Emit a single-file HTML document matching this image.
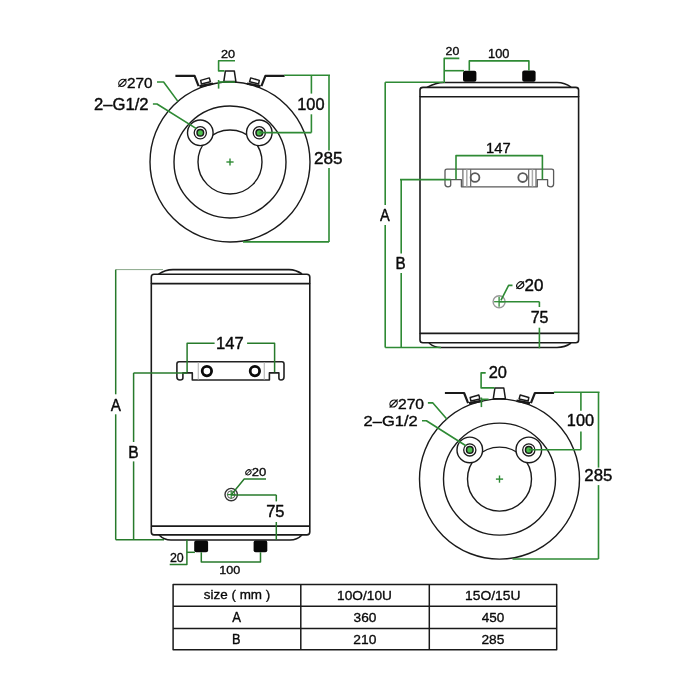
<!DOCTYPE html>
<html><head><meta charset="utf-8"><style>
html,body{margin:0;padding:0;background:#fff;}
svg{display:block;font-family:"Liberation Sans",sans-serif;}
text{will-change:transform;}
</style></head><body>
<svg width="700" height="700" viewBox="0 0 700 700" stroke-linecap="butt" stroke-linejoin="round">
<circle cx="230" cy="162" r="80" stroke="#1a1a1a" stroke-width="1.4" fill="none"/>
<circle cx="230" cy="162" r="56" stroke="#1a1a1a" stroke-width="1.4" fill="none"/>
<circle cx="230" cy="162" r="32" stroke="#1a1a1a" stroke-width="1.4" fill="none"/>
<circle cx="200.3" cy="132.8" r="12.8" stroke="#1a1a1a" stroke-width="1.4" fill="#fff"/>
<circle cx="200.3" cy="132.8" r="6.1" stroke="#1a1a1a" stroke-width="1.3" fill="none"/>
<circle cx="200.3" cy="132.8" r="3.3" stroke="#1a1a1a" stroke-width="1.5" fill="#4cc04c"/>
<circle cx="259.3" cy="132.8" r="12.8" stroke="#1a1a1a" stroke-width="1.4" fill="#fff"/>
<circle cx="259.3" cy="132.8" r="6.1" stroke="#1a1a1a" stroke-width="1.3" fill="none"/>
<circle cx="259.3" cy="132.8" r="3.3" stroke="#1a1a1a" stroke-width="1.5" fill="#4cc04c"/>
<line x1="226.4" y1="162" x2="233.6" y2="162" stroke="#2e8a34" stroke-width="1.4"/>
<line x1="230" y1="158.4" x2="230" y2="165.6" stroke="#2e8a34" stroke-width="1.4"/>
<polyline points="175.4,75.9 194.6,75.9 198.6,86.1" stroke="#1a1a1a" stroke-width="2.2" fill="none" />
<polyline points="284.6,75.9 265.4,75.9 261.4,86.1" stroke="#1a1a1a" stroke-width="2.2" fill="none" />
<polygon points="200.7,80.4 209.3,77.9 210.4,81.8 201.4,83.9" stroke="#1a1a1a" stroke-width="1.5" fill="#fff"/>
<polygon points="259.3,80.4 250.7,77.9 249.6,81.8 258.6,83.9" stroke="#1a1a1a" stroke-width="1.5" fill="#fff"/>
<line x1="199.5" y1="86.2" x2="213" y2="83.6" stroke="#1a1a1a" stroke-width="2.4"/>
<line x1="260.5" y1="86.2" x2="247" y2="83.6" stroke="#1a1a1a" stroke-width="2.4"/>
<polygon points="223.8,81.6 225.4,70.9 234.3,70.9 235.9,81.6" stroke="#1a1a1a" stroke-width="1.5" fill="#fff"/>
<line x1="284.3" y1="75.2" x2="330" y2="75.2" stroke="#2e8a34" stroke-width="1.6"/>
<line x1="311.4" y1="75.2" x2="311.4" y2="93.6" stroke="#2e8a34" stroke-width="1.6"/>
<line x1="311.4" y1="114.3" x2="311.4" y2="132.6" stroke="#2e8a34" stroke-width="1.6"/>
<line x1="259.3" y1="132.6" x2="311.4" y2="132.6" stroke="#2e8a34" stroke-width="1.6"/>
<line x1="329" y1="75.2" x2="329" y2="150.5" stroke="#2e8a34" stroke-width="1.6"/>
<line x1="329" y1="168" x2="329" y2="241.9" stroke="#2e8a34" stroke-width="1.6"/>
<line x1="243" y1="241.9" x2="329" y2="241.9" stroke="#2e8a34" stroke-width="1.6"/>
<text transform="matrix(0.1636 0 0 0.1568 297.21 109.69)" font-size="100" fill="#0a0a0a" stroke="#0a0a0a" stroke-width="2.49">100</text>
<text transform="matrix(0.1713 0 0 0.1667 313.99 164.08)" font-size="100" fill="#0a0a0a" stroke="#0a0a0a" stroke-width="2.52">285</text>
<polyline points="235,60.7 218.6,60.7 218.6,70.9 224.5,70.9" stroke="#2e8a34" stroke-width="1.6" fill="none" />
<line x1="218.6" y1="82" x2="235" y2="82" stroke="#2e8a34" stroke-width="1.6"/>
<line x1="218.6" y1="80" x2="218.6" y2="88.6" stroke="#2e8a34" stroke-width="1.6"/>
<text transform="matrix(0.1271 0 0 0.1172 220.91 57.63)" font-size="100" fill="#0a0a0a" stroke="#0a0a0a" stroke-width="2.78">20</text>
<text transform="matrix(0.1533 0 0 0.1469 126.88 88.30)" font-size="100" fill="#0a0a0a" stroke="#0a0a0a" stroke-width="2.47">270</text>
<ellipse cx="122.4" cy="82.8" rx="3.9600000000000004" ry="3.168" transform="rotate(-40 122.4 82.8)" stroke="#111" stroke-width="1.2" fill="none"/>
<line x1="118.44000000000001" y1="86.75999999999999" x2="126.36" y2="78.84" stroke="#111" stroke-width="1.2"/>
<text transform="matrix(0.1664 0 0 0.1568 94.02 109.69)" font-size="100" fill="#0a0a0a" stroke="#0a0a0a" stroke-width="2.47">2–G1/2</text>
<polyline points="157,82 163.6,82 177.9,101.4" stroke="#2e8a34" stroke-width="1.6" fill="none" />
<polyline points="152.9,104 157,104 196.4,128.6" stroke="#2e8a34" stroke-width="1.6" fill="none" />
<circle cx="499.5" cy="479.1" r="80" stroke="#1a1a1a" stroke-width="1.4" fill="none"/>
<circle cx="499.5" cy="479.1" r="56" stroke="#1a1a1a" stroke-width="1.4" fill="none"/>
<circle cx="499.5" cy="479.1" r="32" stroke="#1a1a1a" stroke-width="1.4" fill="none"/>
<circle cx="469.8" cy="449.90000000000003" r="12.8" stroke="#1a1a1a" stroke-width="1.4" fill="#fff"/>
<circle cx="469.8" cy="449.90000000000003" r="6.1" stroke="#1a1a1a" stroke-width="1.3" fill="none"/>
<circle cx="469.8" cy="449.90000000000003" r="3.3" stroke="#1a1a1a" stroke-width="1.5" fill="#4cc04c"/>
<circle cx="528.8" cy="449.90000000000003" r="12.8" stroke="#1a1a1a" stroke-width="1.4" fill="#fff"/>
<circle cx="528.8" cy="449.90000000000003" r="6.1" stroke="#1a1a1a" stroke-width="1.3" fill="none"/>
<circle cx="528.8" cy="449.90000000000003" r="3.3" stroke="#1a1a1a" stroke-width="1.5" fill="#4cc04c"/>
<line x1="495.9" y1="479.1" x2="503.1" y2="479.1" stroke="#2e8a34" stroke-width="1.4"/>
<line x1="499.5" y1="475.5" x2="499.5" y2="482.70000000000005" stroke="#2e8a34" stroke-width="1.4"/>
<polyline points="444.9,393.0 464.1,393.0 468.1,403.20000000000005" stroke="#1a1a1a" stroke-width="2.2" fill="none" />
<polyline points="554.1,393.0 534.9,393.0 530.9,403.20000000000005" stroke="#1a1a1a" stroke-width="2.2" fill="none" />
<polygon points="470.2,397.5 478.8,395.0 479.9,398.90000000000003 470.9,401.0" stroke="#1a1a1a" stroke-width="1.5" fill="#fff"/>
<polygon points="528.8,397.5 520.2,395.0 519.1,398.90000000000003 528.1,401.0" stroke="#1a1a1a" stroke-width="1.5" fill="#fff"/>
<line x1="469.0" y1="403.3" x2="482.5" y2="400.70000000000005" stroke="#1a1a1a" stroke-width="2.4"/>
<line x1="530.0" y1="403.3" x2="516.5" y2="400.70000000000005" stroke="#1a1a1a" stroke-width="2.4"/>
<polygon points="493.3,398.70000000000005 494.9,388.0 503.8,388.0 505.4,398.70000000000005" stroke="#1a1a1a" stroke-width="1.5" fill="#fff"/>
<line x1="553.8" y1="392.3" x2="599.5" y2="392.3" stroke="#2e8a34" stroke-width="1.6"/>
<line x1="580.9" y1="392.3" x2="580.9" y2="410.70000000000005" stroke="#2e8a34" stroke-width="1.6"/>
<line x1="580.9" y1="431.40000000000003" x2="580.9" y2="449.70000000000005" stroke="#2e8a34" stroke-width="1.6"/>
<line x1="528.8" y1="449.70000000000005" x2="580.9" y2="449.70000000000005" stroke="#2e8a34" stroke-width="1.6"/>
<line x1="598.5" y1="392.3" x2="598.5" y2="467.6" stroke="#2e8a34" stroke-width="1.6"/>
<line x1="598.5" y1="485.1" x2="598.5" y2="559.0" stroke="#2e8a34" stroke-width="1.6"/>
<line x1="512.5" y1="559.0" x2="598.5" y2="559.0" stroke="#2e8a34" stroke-width="1.6"/>
<text transform="matrix(0.1636 0 0 0.1568 566.81 426.09)" font-size="100" fill="#0a0a0a" stroke="#0a0a0a" stroke-width="2.49">100</text>
<text transform="matrix(0.1681 0 0 0.1582 584.31 481.39)" font-size="100" fill="#0a0a0a" stroke="#0a0a0a" stroke-width="2.47">285</text>
<polyline points="485.7,372.9 481.1,372.9 481.1,387.9 494.5,387.9" stroke="#2e8a34" stroke-width="1.6" fill="none" />
<line x1="481.1" y1="399.3" x2="488.6" y2="399.3" stroke="#2e8a34" stroke-width="1.6"/>
<line x1="481.4" y1="397.5" x2="481.4" y2="407.1" stroke="#2e8a34" stroke-width="1.6"/>
<text transform="matrix(0.1642 0 0 0.1582 488.63 378.29)" font-size="100" fill="#0a0a0a" stroke="#0a0a0a" stroke-width="2.50">20</text>
<text transform="matrix(0.1564 0 0 0.1469 397.97 409.00)" font-size="100" fill="#0a0a0a" stroke="#0a0a0a" stroke-width="2.45">270</text>
<ellipse cx="393.6" cy="403.5" rx="3.9600000000000004" ry="3.168" transform="rotate(-40 393.6 403.5)" stroke="#111" stroke-width="1.2" fill="none"/>
<line x1="389.64000000000004" y1="407.46" x2="397.56" y2="399.54" stroke="#111" stroke-width="1.2"/>
<text transform="matrix(0.1651 0 0 0.1469 363.62 426.10)" font-size="100" fill="#0a0a0a" stroke="#0a0a0a" stroke-width="2.38">2–G1/2</text>
<polyline points="427.9,402.9 432.9,402.9 447,419.3" stroke="#2e8a34" stroke-width="1.6" fill="none" />
<polyline points="422,420.7 426.4,420.7 465.9,445.70000000000005" stroke="#2e8a34" stroke-width="1.6" fill="none" />
<path d="M427,87.4 Q436,82.5 444,82.5 L557,82.5 Q565,82.5 571,87.2" stroke="#1a1a1a" stroke-width="1.6" fill="none" />
<path d="M420,96.8 L420,90 Q420,87.4 423,87.4 L575.6,87.4 Q578.6,87.4 578.6,90 L578.6,96.8" stroke="#1a1a1a" stroke-width="1.6" fill="none" />
<line x1="420" y1="96.8" x2="578.6" y2="96.8" stroke="#1a1a1a" stroke-width="1.6"/>
<line x1="420" y1="96" x2="420" y2="333.4" stroke="#1a1a1a" stroke-width="1.6"/>
<line x1="578.6" y1="96" x2="578.6" y2="333.4" stroke="#1a1a1a" stroke-width="1.6"/>
<line x1="420" y1="333.4" x2="578.6" y2="333.4" stroke="#1a1a1a" stroke-width="1.6"/>
<path d="M420,333 L420,340 Q420,342.8 423,342.8 L575.6,342.8 Q578.6,342.8 578.6,340 L578.6,333" stroke="#1a1a1a" stroke-width="1.6" fill="none" />
<path d="M429,343 Q434,347.5 441,347.5 L557,347.5 Q565,347.5 571,343" stroke="#1a1a1a" stroke-width="1.6" fill="none" />
<rect x="463" y="70.7" width="13.4" height="11" rx="2" fill="#080808"/>
<rect x="522.2" y="70.5" width="13.4" height="11.2" rx="2" fill="#080808"/>
<path d="M461.4,179.6 L450.7,179.6 L450.7,185 Q450.7,186.8 448,186.8 Q445,186.8 445,184 L445,171 Q445,169.2 447,169.2 L551.6,169.2 Q553.6,169.2 553.6,171 L553.6,184 Q553.6,186.8 551,186.8 Q547.6,186.8 547.6,185 L547.6,179.6 L537.3,179.6 L537.3,186.8 L461.4,186.8 Z" stroke="#5a5a5a" stroke-width="1.3" fill="none" />
<line x1="462.9" y1="169.2" x2="462.9" y2="186.8" stroke="#5a5a5a" stroke-width="1.1"/>
<line x1="470.7" y1="169.2" x2="470.7" y2="186.8" stroke="#5a5a5a" stroke-width="1.1"/>
<line x1="528.7" y1="169.2" x2="528.7" y2="186.8" stroke="#5a5a5a" stroke-width="1.1"/>
<line x1="536" y1="169.2" x2="536" y2="186.8" stroke="#5a5a5a" stroke-width="1.1"/>
<line x1="466.8" y1="169.5" x2="466.8" y2="186.5" stroke="#aaa" stroke-width="1.5"/>
<line x1="532.4" y1="169.5" x2="532.4" y2="186.5" stroke="#aaa" stroke-width="1.5"/>
<circle cx="475" cy="177.5" r="4.4" stroke="#5a5a5a" stroke-width="1.8" fill="none"/>
<circle cx="522.7" cy="177.6" r="4.4" stroke="#5a5a5a" stroke-width="1.8" fill="none"/>
<circle cx="499.1" cy="301.7" r="6" stroke="#999" stroke-width="1.4" fill="none"/>
<line x1="494.1" y1="301.7" x2="504.1" y2="301.7" stroke="#2e8a34" stroke-width="1.3"/>
<line x1="499.1" y1="296.7" x2="499.1" y2="306.7" stroke="#2e8a34" stroke-width="1.3"/>
<line x1="385.2" y1="82.3" x2="443" y2="82.3" stroke="#2e8a34" stroke-width="1.6"/>
<line x1="385.2" y1="82.3" x2="385.2" y2="205" stroke="#2e8a34" stroke-width="1.6"/>
<line x1="385.2" y1="225" x2="385.2" y2="347.5" stroke="#2e8a34" stroke-width="1.6"/>
<text transform="matrix(0.1463 0 0 0.1672 380.12 220.95)" font-size="100" fill="#0a0a0a" stroke="#0a0a0a" stroke-width="2.73">A</text>
<line x1="400" y1="179.6" x2="450.7" y2="179.6" stroke="#2e8a34" stroke-width="1.6"/>
<line x1="401.2" y1="179.6" x2="401.2" y2="253.6" stroke="#2e8a34" stroke-width="1.6"/>
<line x1="401.2" y1="273" x2="401.2" y2="347.5" stroke="#2e8a34" stroke-width="1.6"/>
<text transform="matrix(0.1523 0 0 0.1599 395.40 269.05)" font-size="100" fill="#0a0a0a" stroke="#0a0a0a" stroke-width="2.61">B</text>
<line x1="385.2" y1="347.5" x2="441" y2="347.5" stroke="#2e8a34" stroke-width="1.6"/>
<polyline points="459.3,58.4 444.2,58.4 444.2,82.9" stroke="#2e8a34" stroke-width="1.6" fill="none" />
<line x1="444.2" y1="70.7" x2="464" y2="70.7" stroke="#2e8a34" stroke-width="1.6"/>
<text transform="matrix(0.1232 0 0 0.1172 445.53 54.73)" font-size="100" fill="#0a0a0a" stroke="#0a0a0a" stroke-width="2.83">20</text>
<polyline points="469.3,70.7 469.3,60.9 528.9,60.9 528.9,70.5" stroke="#2e8a34" stroke-width="1.6" fill="none" />
<text transform="matrix(0.1281 0 0 0.1201 488.08 57.73)" font-size="100" fill="#0a0a0a" stroke="#0a0a0a" stroke-width="2.74">100</text>
<polyline points="456,179.6 456,155.6 542.4,155.6 542.4,179.6" stroke="#2e8a34" stroke-width="1.6" fill="none" />
<text transform="matrix(0.1472 0 0 0.1410 486.03 152.85)" font-size="100" fill="#0a0a0a" stroke="#0a0a0a" stroke-width="2.46">147</text>
<polyline points="500.9,300.3 508.6,285.4 512.5,285.4" stroke="#2e8a34" stroke-width="1.6" fill="none" />
<ellipse cx="520.2" cy="285.2" rx="3.74" ry="2.992" transform="rotate(-40 520.2 285.2)" stroke="#111" stroke-width="1.2" fill="none"/>
<line x1="516.46" y1="288.94" x2="523.94" y2="281.46" stroke="#111" stroke-width="1.2"/>
<text transform="matrix(0.1701 0 0 0.1610 524.50 291.09)" font-size="100" fill="#0a0a0a" stroke="#0a0a0a" stroke-width="2.48">20</text>
<line x1="499.1" y1="301.7" x2="539.4" y2="301.7" stroke="#2e8a34" stroke-width="1.6"/>
<line x1="539.4" y1="301.7" x2="539.4" y2="307" stroke="#2e8a34" stroke-width="1.6"/>
<line x1="539.4" y1="327.7" x2="539.4" y2="348.3" stroke="#2e8a34" stroke-width="1.6"/>
<text transform="matrix(0.1600 0 0 0.1676 530.73 323.08)" font-size="100" fill="#0a0a0a" stroke="#0a0a0a" stroke-width="2.62">75</text>
<path d="M158.6,274.2 Q165,269.6 173,269.6 L289,269.6 Q296,269.6 302,274" stroke="#1a1a1a" stroke-width="1.6" fill="none" />
<path d="M151.3,283.6 L151.3,277 Q151.3,274.2 154,274.2 L306.8,274.2 Q309.8,274.2 309.8,277 L309.8,283.6" stroke="#1a1a1a" stroke-width="1.6" fill="none" />
<line x1="151.3" y1="283.6" x2="309.8" y2="283.6" stroke="#1a1a1a" stroke-width="1.6"/>
<line x1="151.3" y1="283" x2="151.3" y2="526.1" stroke="#1a1a1a" stroke-width="1.6"/>
<line x1="309.8" y1="283" x2="309.8" y2="526.1" stroke="#1a1a1a" stroke-width="1.6"/>
<line x1="151.3" y1="526.1" x2="309.8" y2="526.1" stroke="#1a1a1a" stroke-width="1.6"/>
<path d="M151.3,526 L151.3,532 Q151.3,534.9 154,534.9 L306.8,534.9 Q309.8,534.9 309.8,532 L309.8,526" stroke="#1a1a1a" stroke-width="1.6" fill="none" />
<path d="M159,535 Q164,540 171,540 L290,540 Q297,540 302,535" stroke="#1a1a1a" stroke-width="1.6" fill="none" />
<rect x="194.2" y="540.6" width="13.9" height="11.7" rx="2" fill="#080808"/>
<rect x="253.6" y="540.6" width="13.7" height="11.7" rx="2" fill="#080808"/>
<path d="M192.3,372.9 L182.9,372.9 L182.9,378 Q182.9,380 180,380 Q176.9,380 176.9,377 L176.9,364 Q176.9,361.7 179,361.7 L282,361.7 Q284,361.7 284,364 L284,377 Q284,380 281,380 Q278.9,380 278.9,378 L278.9,372.9 L269.4,372.9 L269.4,380 L192.3,380 Z" stroke="#222" stroke-width="1.6" fill="none" />
<line x1="198.3" y1="362.5" x2="198.3" y2="379.5" stroke="#bbb" stroke-width="1.2"/>
<line x1="264.3" y1="362.5" x2="264.3" y2="379.5" stroke="#bbb" stroke-width="1.2"/>
<circle cx="206.9" cy="371.1" r="4.7" stroke="#0a0a0a" stroke-width="2.8" fill="none"/>
<circle cx="254.9" cy="371.1" r="4.7" stroke="#0a0a0a" stroke-width="2.8" fill="none"/>
<circle cx="231.2" cy="494.6" r="6.2" stroke="#333" stroke-width="1.4" fill="none"/>
<circle cx="231.2" cy="494.6" r="3.8" stroke="#555" stroke-width="1.0" fill="none"/>
<line x1="227.2" y1="494.6" x2="235.2" y2="494.6" stroke="#2e8a34" stroke-width="1.2"/>
<line x1="231.2" y1="490.6" x2="231.2" y2="498.6" stroke="#2e8a34" stroke-width="1.2"/>
<line x1="115.7" y1="269.6" x2="163" y2="269.6" stroke="#8aa88a" stroke-width="1.0"/>
<line x1="115.7" y1="269.6" x2="115.7" y2="394.3" stroke="#277a2b" stroke-width="1.5"/>
<line x1="115.7" y1="414.3" x2="115.7" y2="539.7" stroke="#277a2b" stroke-width="1.5"/>
<text transform="matrix(0.1523 0 0 0.1613 110.82 410.55)" font-size="100" fill="#0a0a0a" stroke="#0a0a0a" stroke-width="2.63">A</text>
<line x1="133.6" y1="372.9" x2="187.1" y2="372.9" stroke="#277a2b" stroke-width="1.5"/>
<line x1="133.6" y1="372.9" x2="133.6" y2="442" stroke="#277a2b" stroke-width="1.5"/>
<line x1="133.6" y1="461.4" x2="133.6" y2="539.7" stroke="#277a2b" stroke-width="1.5"/>
<text transform="matrix(0.1560 0 0 0.1628 128.17 458.45)" font-size="100" fill="#0a0a0a" stroke="#0a0a0a" stroke-width="2.61">B</text>
<line x1="115.7" y1="539.7" x2="164" y2="539.7" stroke="#277a2b" stroke-width="1.5"/>
<polyline points="187.1,372.2 187.1,343.2 214.6,343.2" stroke="#277a2b" stroke-width="1.5" fill="none" />
<polyline points="247.1,343.2 274.6,343.2 274.6,372.2" stroke="#277a2b" stroke-width="1.5" fill="none" />
<text transform="matrix(0.1654 0 0 0.1657 215.99 349.25)" font-size="100" fill="#0a0a0a" stroke="#0a0a0a" stroke-width="2.56">147</text>
<polyline points="231.7,494.2 244.2,479.1 266,479.1" stroke="#277a2b" stroke-width="1.5" fill="none" />
<ellipse cx="248.4" cy="472.3" rx="2.8600000000000003" ry="2.2880000000000003" transform="rotate(-40 248.4 472.3)" stroke="#111" stroke-width="1.0" fill="none"/>
<line x1="245.54" y1="475.16" x2="251.26000000000002" y2="469.44" stroke="#111" stroke-width="1.0"/>
<text transform="matrix(0.1310 0 0 0.1172 251.80 476.33)" font-size="100" fill="#0a0a0a" stroke="#0a0a0a" stroke-width="2.74">20</text>
<line x1="231.2" y1="494.9" x2="276.3" y2="494.9" stroke="#277a2b" stroke-width="1.5"/>
<line x1="276.3" y1="494.9" x2="276.3" y2="501.4" stroke="#277a2b" stroke-width="1.5"/>
<line x1="276.3" y1="522" x2="276.3" y2="540" stroke="#277a2b" stroke-width="1.5"/>
<text transform="matrix(0.1649 0 0 0.1676 266.21 517.38)" font-size="100" fill="#0a0a0a" stroke="#0a0a0a" stroke-width="2.58">75</text>
<polyline points="186.9,539.3 186.9,564.4 169.7,564.4" stroke="#277a2b" stroke-width="1.5" fill="none" />
<line x1="186.9" y1="552.3" x2="194.9" y2="552.3" stroke="#277a2b" stroke-width="1.5"/>
<text transform="matrix(0.1241 0 0 0.1314 169.93 561.72)" font-size="100" fill="#0a0a0a" stroke="#0a0a0a" stroke-width="2.66">20</text>
<polyline points="201.3,552.3 201.3,562.1 260.5,562.1 260.5,552.3" stroke="#277a2b" stroke-width="1.5" fill="none" />
<text transform="matrix(0.1262 0 0 0.1172 219.19 573.53)" font-size="100" fill="#0a0a0a" stroke="#0a0a0a" stroke-width="2.79">100</text>
<rect x="173.1" y="584.4" width="383.6" height="65.4" fill="none" stroke="#1a1a1a" stroke-width="1.5"/>
<line x1="173.1" y1="606.2" x2="556.7" y2="606.2" stroke="#1a1a1a" stroke-width="1.5"/>
<line x1="173.1" y1="628.5" x2="556.7" y2="628.5" stroke="#1a1a1a" stroke-width="1.5"/>
<line x1="300.8" y1="584.4" x2="300.8" y2="649.8" stroke="#1a1a1a" stroke-width="1.5"/>
<line x1="429.3" y1="584.4" x2="429.3" y2="649.8" stroke="#1a1a1a" stroke-width="1.5"/>
<text transform="matrix(0.1347 0 0 0.1332 203.77 598.52)" font-size="100" fill="#0a0a0a" stroke="#0a0a0a" stroke-width="2.54">size ( mm )</text>
<text transform="matrix(0.1312 0 0 0.1395 232.22 621.85)" font-size="100" fill="#0a0a0a" stroke="#0a0a0a" stroke-width="2.59">A</text>
<text transform="matrix(0.1278 0 0 0.1410 232.10 643.75)" font-size="100" fill="#0a0a0a" stroke="#0a0a0a" stroke-width="2.64">B</text>
<text transform="matrix(0.1369 0 0 0.1342 337.11 600.02)" font-size="100" fill="#0a0a0a" stroke="#0a0a0a" stroke-width="2.51">10O/10U</text>
<text transform="matrix(0.1370 0 0 0.1370 353.53 621.71)" font-size="100" fill="#0a0a0a" stroke="#0a0a0a" stroke-width="2.51">360</text>
<text transform="matrix(0.1381 0 0 0.1342 353.36 643.52)" font-size="100" fill="#0a0a0a" stroke="#0a0a0a" stroke-width="2.50">210</text>
<text transform="matrix(0.1385 0 0 0.1342 465.10 600.02)" font-size="100" fill="#0a0a0a" stroke="#0a0a0a" stroke-width="2.49">15O/15U</text>
<text transform="matrix(0.1351 0 0 0.1370 481.84 621.71)" font-size="100" fill="#0a0a0a" stroke="#0a0a0a" stroke-width="2.53">450</text>
<text transform="matrix(0.1377 0 0 0.1342 481.46 643.52)" font-size="100" fill="#0a0a0a" stroke="#0a0a0a" stroke-width="2.50">285</text>
</svg></body></html>
